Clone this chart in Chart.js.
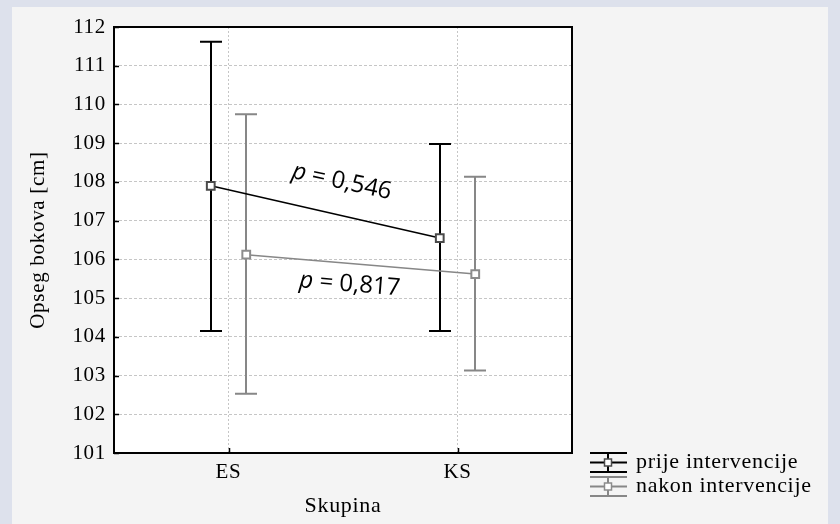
<!DOCTYPE html>
<html>
<head>
<meta charset="utf-8">
<script src="https://cdn.jsdelivr.net/npm/chart.js@4.4.1/dist/chart.umd.min.js"></script>
<style>
    html, body { margin: 0; padding: 0; background: #dde1ec; }
    canvas { display: block; }
</style>
</head>
<body>
<canvas id="hipChart" width="840" height="524"></canvas>
<script>
// Groups and means with interval limits (hip circumference, cm)
const categories = ['ES', 'KS'];
const seriesNames = ['prije intervencije', 'nakon intervencije'];
const prijeMean = [107.9, 106.55];
const prijeLow = [104.15, 104.15];
const prijeHigh = [111.62, 108.98];
const nakonMean = [106.12, 105.62];
const nakonLow = [102.53, 103.13];
const nakonHigh = [109.75, 108.13];
const pValues = ['0,546', '0,817'];
const yTicks = [101, 102, 103, 104, 105, 106, 107, 108, 109, 110, 111, 112];

const SERIF = "'Liberation Serif', 'Times New Roman', serif";
const SANS = "'Open Sans', sans-serif";
const dodge = 0.155; // horizontal shift of the two series inside a group

const series = [
    { mean: prijeMean, low: prijeLow, high: prijeHigh, color: '#000000', marker: '#4a4a4a', shift: -dodge },
    { mean: nakonMean, low: nakonLow, high: nakonHigh, color: '#878787', marker: '#8c8c8c', shift: dodge }
];

function groupPos(i) {
    return 2 * i + 1;
}

// Page background, grey panel and white plot area
const panelBg = {
    id: 'panelBg',
    beforeDraw(chart) {
        const { ctx, width, height, chartArea: a } = chart;
        ctx.save();
        ctx.fillStyle = '#dde1ec';
        ctx.fillRect(0, 0, width, height);
        ctx.fillStyle = '#f4f4f4';
        ctx.fillRect(12, 7, 816, height - 7);
        ctx.fillStyle = '#ffffff';
        ctx.fillRect(a.left, a.top, a.right - a.left, a.bottom - a.top);
        ctx.restore();
        ctx.letterSpacing = '0.7px';
    }
};

// Vertical whiskers with caps, drawn under the markers
const errorBars = {
    id: 'errorBars',
    beforeDatasetsDraw(chart) {
        const { ctx, scales: { x, y } } = chart;
        ctx.save();
        ctx.lineWidth = 2;
        series.forEach(s => {
            ctx.strokeStyle = s.color;
            s.mean.forEach((m, i) => {
                const px = Math.round(x.getPixelForValue(groupPos(i) + s.shift));
                const top = y.getPixelForValue(s.high[i]);
                const bot = y.getPixelForValue(s.low[i]);
                ctx.beginPath();
                ctx.moveTo(px, top); ctx.lineTo(px, bot);
                ctx.moveTo(px - 11, top); ctx.lineTo(px + 11, top);
                ctx.moveTo(px - 11, bot); ctx.lineTo(px + 11, bot);
                ctx.stroke();
            });
        });
        ctx.restore();
    }
};

// p-value labels along each connecting line, frame, inner ticks and legend
const overlay = {
    id: 'overlay',
    afterDraw(chart) {
        const { ctx, chartArea: a, scales: { x, y } } = chart;
        ctx.save();
        ctx.letterSpacing = '0px';

        // p labels
        const place = [{ t: 0.54, off: -33 }, { t: 0.46, off: 21 }];
        series.forEach((s, k) => {
            const x0 = x.getPixelForValue(groupPos(0) + s.shift), y0 = y.getPixelForValue(s.mean[0]);
            const x1 = x.getPixelForValue(groupPos(1) + s.shift), y1 = y.getPixelForValue(s.mean[1]);
            const ang = Math.atan2(y1 - y0, x1 - x0);
            const cx = x0 + (x1 - x0) * place[k].t - Math.sin(ang) * place[k].off;
            const cy = y0 + (y1 - y0) * place[k].t + Math.cos(ang) * place[k].off;
            ctx.save();
            ctx.translate(cx, cy);
            ctx.rotate(ang * 0.95);
            ctx.fillStyle = '#000';
            ctx.textBaseline = 'middle';
            ctx.textAlign = 'left';
            ctx.font = 'italic 24px ' + SANS;
            const pw = ctx.measureText('p').width;
            ctx.font = '24px ' + SANS;
            const rest = ' = ' + pValues[k];
            const total = pw + ctx.measureText(rest).width;
            ctx.font = 'italic 24px ' + SANS;
            ctx.fillText('p', -total / 2, 0);
            ctx.font = '24px ' + SANS;
            ctx.fillText(rest, -total / 2 + pw, 0);
            ctx.restore();
        });

        // frame
        ctx.strokeStyle = '#000';
        ctx.lineWidth = 2;
        ctx.strokeRect(a.left, a.top, a.right - a.left, a.bottom - a.top);

        // inner ticks
        ctx.lineWidth = 1.5;
        ctx.beginPath();
        yTicks.forEach(v => {
            const py = Math.round(y.getPixelForValue(v)) + 0.5;
            ctx.moveTo(a.left, py); ctx.lineTo(a.left + 5, py);
        });
        categories.forEach((c, i) => {
            const px = Math.round(x.getPixelForValue(groupPos(i))) + 0.5;
            ctx.moveTo(px, a.bottom); ctx.lineTo(px, a.bottom - 5);
        });
        ctx.stroke();

        // legend
        const rows = [462.5, 486.5];
        series.forEach((s, k) => {
            const cy = rows[k], cx = 608;
            ctx.strokeStyle = s.color;
            ctx.lineWidth = 2;
            ctx.beginPath();
            ctx.moveTo(590, cy - 9.5); ctx.lineTo(627, cy - 9.5);
            ctx.moveTo(590, cy); ctx.lineTo(627, cy);
            ctx.moveTo(590, cy + 9.5); ctx.lineTo(627, cy + 9.5);
            ctx.moveTo(cx, cy - 9.5); ctx.lineTo(cx, cy + 9.5);
            ctx.stroke();
            ctx.fillStyle = '#fff';
            ctx.fillRect(cx - 3.5, cy - 3.5, 7, 7);
            ctx.strokeStyle = s.marker;
            ctx.lineWidth = 1.5;
            ctx.strokeRect(cx - 3.5, cy - 3.5, 7, 7);
            ctx.fillStyle = '#000';
            ctx.letterSpacing = '0.7px';
            ctx.font = '22px ' + SERIF;
            ctx.textAlign = 'left';
            ctx.textBaseline = 'middle';
            ctx.fillText(seriesNames[k], 636, cy);
        });
        ctx.restore();
    }
};

const datasets = series.map((s, k) => ({
    label: seriesNames[k],
    data: s.mean.map((m, i) => ({ x: groupPos(i) + s.shift, y: m })),
    borderColor: s.color,
    borderWidth: 1.5,
    pointStyle: 'rect',
    pointRadius: 5.5,
    pointBackgroundColor: '#ffffff',
    pointBorderColor: s.marker,
    pointBorderWidth: 2,
    tension: 0
}));

const tickFont = { family: SERIF, size: 21 };

new Chart(document.getElementById('hipChart'), {
    type: 'line',
    data: { datasets: datasets },
    options: {
        responsive: false,
        animation: false,
        layout: { padding: { top: 27, right: 268, bottom: 0, left: 0 } },
        plugins: {
            legend: { display: false },
            tooltip: { enabled: false }
        },
        scales: {
            x: {
                type: 'linear',
                min: 0,
                max: 4,
                afterBuildTicks: s => { s.ticks = categories.map((c, i) => ({ value: groupPos(i) })); },
                afterFit: s => { s.height = 71; },
                ticks: {
                    callback: v => categories[(v - 1) / 2],
                    font: tickFont,
                    color: '#000',
                    padding: 7,
                    maxRotation: 0,
                    autoSkip: false
                },
                grid: { color: '#c6c6c6', lineWidth: 1, drawTicks: false },
                border: { display: false, dash: [2, 2] },
                title: {
                    display: true,
                    text: 'Skupina',
                    font: { family: SERIF, size: 22 },
                    color: '#000',
                    padding: { top: 0, bottom: 5 }
                }
            },
            y: {
                min: 101,
                max: 112,
                afterBuildTicks: s => { s.ticks = yTicks.map(v => ({ value: v })); },
                afterFit: s => { s.width = 114; },
                ticks: { font: tickFont, color: '#000', padding: 8 },
                grid: { color: '#c6c6c6', lineWidth: 1, drawTicks: false },
                border: { display: false, dash: [3, 2] },
                title: {
                    display: true,
                    text: 'Opseg bokova [cm]',
                    font: { family: SERIF, size: 21 },
                    color: '#000',
                    padding: { top: 26, bottom: 0 }
                }
            }
        }
    },
    plugins: [panelBg, errorBars, overlay]
});
</script>
</body>
</html>
